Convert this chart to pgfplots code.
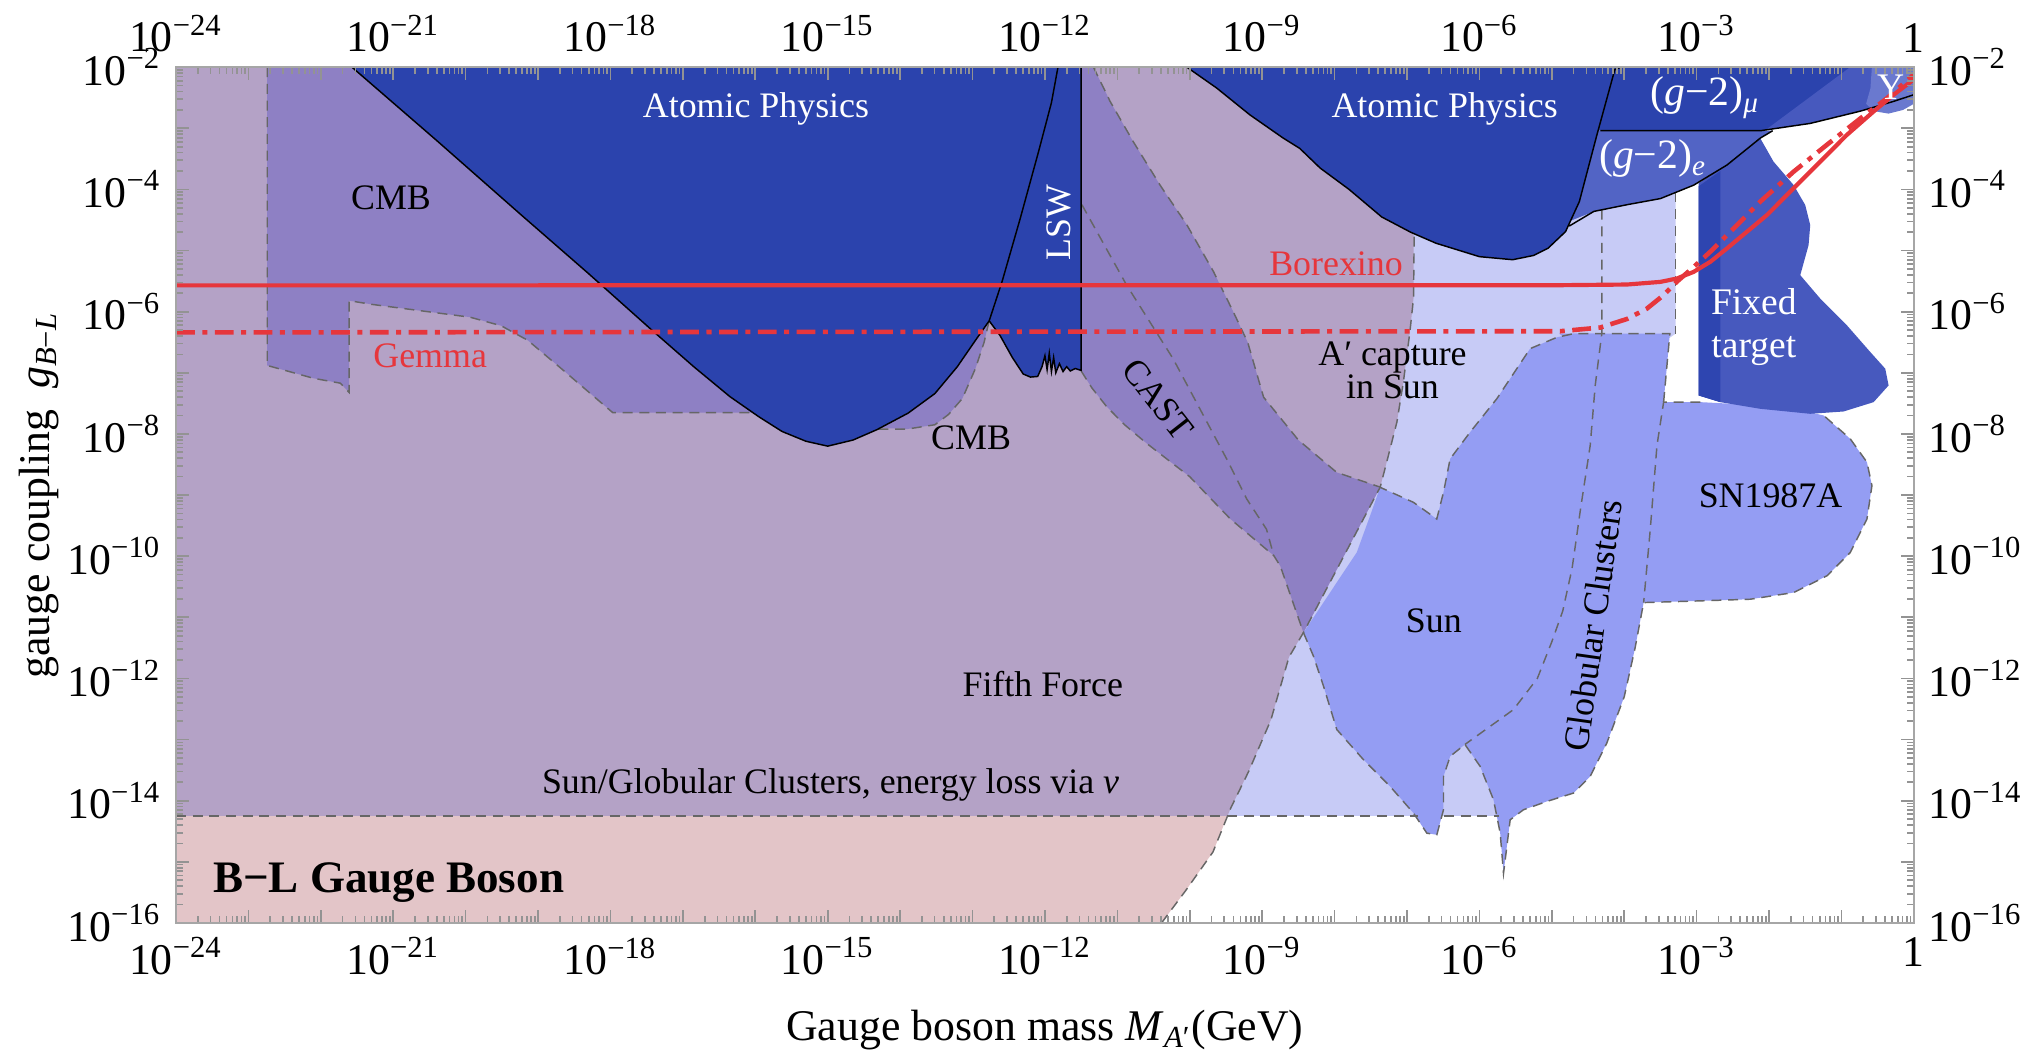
\documentclass[border=0pt]{standalone}
\usepackage{fontspec}
\setmainfont{Liberation Serif}
\usepackage{pgfplots}
\pgfplotsset{compat=1.18}

\definecolor{lav}{HTML}{C7CBF6}
\definecolor{pinkff}{HTML}{E3C5C8}
\definecolor{ffpur}{HTML}{B4A2C6}
\definecolor{cmb}{HTML}{8E80C4}
\definecolor{dblue}{HTML}{2B43AD}
\definecolor{sunb}{HTML}{949DF3}
\definecolor{gtwo}{HTML}{5264C5}
\definecolor{ftc}{HTML}{4759BE}
\definecolor{ftstrip}{HTML}{2E45B0}
\definecolor{ups}{HTML}{6A79CF}
\definecolor{redl}{HTML}{E6363C}

\newcommand\tn[1]{10\textsuperscript{−#1}}
\newcommand\lf{\fontsize{8.6}{9}\selectfont}

\xdef\xminorlist{-23.69897}
\xdef\yminorlist{-15.69897}
\foreach \d in {-24,...,-1}{\foreach \k in {0.30103,0.47712,0.60206,0.69897,0.77815,0.8451,0.90309,0.95424}{\pgfmathparse{\d+\k}\xdef\xminorlist{\xminorlist,\pgfmathresult}}}
\foreach \d in {-16,...,-3}{\foreach \k in {0.30103,0.47712,0.60206,0.69897,0.77815,0.8451,0.90309,0.95424}{\pgfmathparse{\d+\k}\xdef\yminorlist{\yminorlist,\pgfmathresult}}}

\pgfplotsset{
  frame/.style={
    scale only axis, width=416.7pt, height=205.2pt,
    xmin=-24, xmax=0, ymin=-16, ymax=-2,
    xtick={-24,-23,...,0}, ytick={-16,-15,...,-2},
    xticklabels={\tn{24},,,\tn{21},,,\tn{18},,,\tn{15},,,\tn{12},,,\tn{9},,,\tn{6},,,\tn{3},,,1},
    yticklabels={\tn{16},,\tn{14},,\tn{12},,\tn{10},,\tn{8},,\tn{6},,\tn{4},,\tn{2}},
    minor xtick/.expanded={\xminorlist}, minor ytick/.expanded={\yminorlist},
    tick align=inside, major tick length=3pt, minor tick length=1.6pt,
    tick style={gray!85, line width=0.4pt},
    axis line style={gray!70, line width=0.5pt},
    tick label style={font=\fontsize{10.5}{12}\selectfont},
  }
}
\tikzset{bd/.style={draw=black!60, line width=0.35pt, dash pattern=on 2.4pt off 1.6pt},
         ol/.style={draw=black, line width=0.35pt}}

\begin{document}
\begin{tikzpicture}
\begin{axis}[frame, name=ax, no markers, axis on top,
  xticklabel pos=lower, yticklabel pos=left,
  xlabel={Gauge boson mass \textit{M}\textsubscript{\textit{A}′}(GeV)},
  ylabel={gauge coupling\hspace{5pt}\textit{g}\textsubscript{\textit{B}−\textit{L}}},
  label style={font=\fontsize{10.5}{12}\selectfont},
  xlabel style={at={(axis description cs:0.5,-0.125)}, anchor=center},
  ylabel style={at={(axis description cs:-0.079,0.5)}, anchor=center},
]
% lavender base (energy loss via nu / A' capture)
\addplot[fill=lav, draw=none] coordinates {(-24,-14.25) (-5.68,-14.25) (-5.3,-13.5) (-4.3,-10) (-3.55,-7.0) (-3.40,-6.45) (-3.29,-6.36) (-3.29,-3.5) (-24,-3.5)} -- cycle;
% fifth force over white (pink)
\addplot[fill=pinkff, draw=none] coordinates {(-24,-16) (-10.39,-16) (-10.05,-15.46) (-9.68,-14.84) (-9.48,-14.25) (-24,-14.25)} -- cycle;
% fifth force over lavender
\addplot[fill=ffpur, draw=none] coordinates {(-24,-14.25) (-9.48,-14.25) (-9.43,-14.11) (-9.19,-13.53) (-8.88,-12.68) (-8.63,-11.65) (-8.43,-11.25) (-7.37,-8.87) (-7.28,-8.46) (-7.14,-7.81) (-7.05,-7.15) (-6.96,-6.33) (-6.91,-5.78) (-6.9,-2) (-24,-2)} -- cycle;
% CMB / CAST
\addplot[fill=cmb, draw=none] coordinates {(-22.74,-2) (-22.74,-6.88) (-22.10,-7.09) (-21.73,-7.17) (-21.61,-7.32) (-21.61,-5.82) (-21.30,-5.88) (-19.94,-6.09) (-19.51,-6.23) (-19.14,-6.47) (-18.71,-6.90) (-17.97,-7.65) (-15.5,-7.65) (-14.3,-7.9) (-13.9,-7.92) (-13.52,-7.85) (-13.33,-7.68) (-13.14,-7.42) (-12.96,-6.93) (-12.84,-6.5) (-12.77,-6.15) (-12.6,-6.0) (-11.6,-6.0) (-11.6,-6.95) (-11.5,-6.97) (-11.35,-7.25) (-11.15,-7.55) (-10.9,-7.85) (-10.6,-8.15) (-10.0,-8.7) (-9.44,-9.39) (-8.84,-9.99) (-8.75,-10.16) (-8.43,-11.25) (-7.37,-8.87) (-7.97,-8.63) (-8.5,-8.1) (-8.98,-7.4) (-9.2,-6.5) (-9.40,-6.0) (-9.67,-5.35) (-10.04,-4.58) (-10.41,-3.93) (-10.78,-3.22) (-11.10,-2.56) (-11.33,-2)} -- cycle;
% Sun
\addplot[fill=sunb, draw=none] coordinates {(-8.43,-11.25) (-8.062,-10.594) (-7.694,-9.938) (-7.509,-9.337) (-7.371,-8.873) (-6.911,-9.119) (-6.589,-9.392) (-6.496,-8.955) (-6.404,-8.408) (-6.128,-7.971) (-5.760,-7.425) (-5.392,-6.769) (-5.300,-6.605) (-4.93,-6.42) (-4.7,-6.36) (-4.3,-6.36) (-4.4,-7.2) (-4.47,-8.19) (-4.6,-9.2) (-4.72,-10.2) (-4.85,-10.9) (-5.0,-11.4) (-5.2,-12.0) (-5.53,-12.51) (-6.2,-13.08) (-6.404,-13.274) (-6.496,-13.602) (-6.496,-14.148) (-6.588,-14.558) (-6.726,-14.531) (-6.910,-14.203) (-7.233,-13.766) (-7.601,-13.329) (-7.969,-12.837) (-8.153,-12.126) (-8.292,-11.635)} -- cycle;
% Globular clusters
\addplot[fill=sunb, draw=none] coordinates {(-4.9,-6.36) (-3.37,-6.36) (-3.456,-7.48) (-3.548,-8.19) (-3.640,-9.556) (-3.732,-10.759) (-3.85,-11.5) (-4.0,-12.3) (-4.24,-13.055) (-4.47,-13.602) (-4.70,-13.875) (-5.069,-14.012) (-5.391,-14.148) (-5.575,-14.312) (-5.667,-15.187) (-5.713,-14.531) (-5.805,-13.985) (-5.990,-13.438) (-6.2,-13.08) (-5.53,-12.51) (-5.2,-12.0) (-4.85,-10.9) (-4.6,-9.2) (-4.4,-7.2) (-4.6,-6.6)} -- cycle;
% SN1987A
\addplot[fill=sunb, draw=none] coordinates {(-3.456,-7.48) (-2.95,-7.48) (-1.8,-7.55) (-1.246,-7.698) (-0.878,-8.081) (-0.648,-8.463) (-0.579,-8.846) (-0.648,-9.392) (-0.878,-9.939) (-1.200,-10.321) (-1.660,-10.595) (-2.259,-10.704) (-2.950,-10.731) (-3.732,-10.759) (-3.9,-10.75) (-3.7,-7.48)} -- cycle;
% Atomic physics (left) and LSW
\addplot[fill=dblue, draw=none] coordinates {(-21.57,-2) (-20.4,-3.2) (-19.23,-4.42) (-18.3,-5.38) (-17.43,-6.3) (-16.85,-6.9) (-16.35,-7.39) (-15.95,-7.72) (-15.63,-7.96) (-15.3,-8.12) (-15.0,-8.2) (-14.65,-8.1) (-14.32,-7.93) (-13.89,-7.66) (-13.52,-7.34) (-13.21,-6.90) (-12.96,-6.47) (-12.77,-6.15) (-12.59,-5.50) (-12.34,-4.47) (-12.09,-3.39) (-11.91,-2.58) (-11.82,-2)} -- cycle;
\addplot[fill=dblue, draw=none] coordinates {(-11.82,-2) (-11.91,-2.58) (-12.09,-3.39) (-12.34,-4.47) (-12.59,-5.50) (-12.77,-6.15) (-12.62,-6.39) (-12.45,-6.75) (-12.3,-7.02) (-12.2,-7.07) (-12.1,-7.06) (-12.04,-6.9) (-12.0,-6.72) (-11.97,-6.95) (-11.94,-6.68) (-11.91,-6.98) (-11.88,-6.75) (-11.85,-7.0) (-11.8,-6.85) (-11.75,-6.98) (-11.7,-6.9) (-11.65,-6.97) (-11.58,-6.93) (-11.5,-6.96) (-11.5,-2)} -- cycle;
% (g-2)e and (g-2)mu
\addplot[fill=gtwo, draw=none] coordinates {(-5.2,-3.04) (-1.95,-3.04) (-2.12,-3.16) (-2.58,-3.60) (-3.04,-3.93) (-3.50,-4.15) (-3.96,-4.25) (-4.42,-4.36) (-4.88,-4.58) (-5.2,-4.75)} -- cycle;
\addplot[fill=dblue, draw=none] coordinates {(-4.6,-2) (0,-2) (0,-2.45) (-0.28,-2.56) (-0.74,-2.72) (-1.43,-2.92) (-2.12,-3.04) (-4.6,-3.04)} -- cycle;
% Atomic physics (right)
\addplot[fill=dblue, draw=none] coordinates {(-10.04,-2) (-9.63,-2.34) (-9.17,-2.78) (-8.71,-3.16) (-8.48,-3.33) (-8.2,-3.65) (-7.8,-4.0) (-7.35,-4.45) (-6.95,-4.7) (-6.6,-4.88) (-6.0,-5.1) (-5.54,-5.15) (-5.25,-5.08) (-5.05,-4.96) (-4.81,-4.69) (-4.62,-4.2) (-4.38,-3.12) (-4.13,-2.04) (-4.05,-2)} -- cycle;
% fixed target
\addplot[fill=ftc, draw=none] coordinates {(-2.973,-3.9) (-2.973,-7.371) (-2.674,-7.480) (-2.122,-7.589) (-1.431,-7.671) (-0.971,-7.633) (-0.556,-7.480) (-0.349,-7.207) (-0.395,-6.933) (-0.602,-6.660) (-0.925,-6.223) (-1.293,-5.786) (-1.569,-5.403) (-1.454,-4.911) (-1.431,-4.584) (-1.500,-4.256) (-1.661,-3.928) (-1.938,-3.545) (-2.122,-3.163) (-2.6,-3.6)} -- cycle;
\addplot[fill=ftc, draw=none] coordinates {(-2.05,-3.03) (-0.88,-2.0) (-0.35,-2.0) (-0.35,-2.58) (-0.74,-2.72) (-1.43,-2.92)} -- cycle;
\addplot[fill=ftstrip, draw=none] coordinates {(-2.973,-3.95) (-2.674,-3.70) (-2.674,-7.48) (-2.973,-7.371)} -- cycle;
% Upsilon
\addplot[fill=ups, draw=none] coordinates {(-0.58,-2) (-0.6,-2.35) (-0.66,-2.6) (-0.55,-2.72) (-0.35,-2.76) (-0.15,-2.7) (0,-2.6) (0,-2)} -- cycle;

% dashed boundaries
\addplot[bd] coordinates {(-24,-14.25) (-6.85,-14.25)};
\addplot[bd] coordinates {(-6.49,-14.25) (-5.73,-14.25)};
\addplot[bd] coordinates {(-10.39,-16) (-10.05,-15.46) (-9.68,-14.84) (-9.43,-14.11) (-9.19,-13.53) (-8.88,-12.68) (-8.63,-11.65) (-8.43,-11.25) (-7.37,-8.87) (-7.28,-8.46) (-7.14,-7.81) (-7.05,-7.15) (-6.96,-6.33) (-6.91,-5.78) (-6.9,-4.72)};
\addplot[bd] coordinates {(-22.74,-2) (-22.74,-6.88) (-22.10,-7.09) (-21.73,-7.17) (-21.61,-7.32) (-21.61,-5.82) (-21.30,-5.88) (-19.94,-6.09) (-19.51,-6.23) (-19.14,-6.47) (-18.71,-6.90) (-17.97,-7.65) (-16.02,-7.65)};
\addplot[bd] coordinates {(-14.3,-7.92) (-13.9,-7.92) (-13.52,-7.85) (-13.33,-7.68) (-13.14,-7.42) (-12.96,-6.93) (-12.84,-6.5) (-12.77,-6.15)};
\addplot[bd] coordinates {(-11.5,-6.97) (-11.35,-7.25) (-11.15,-7.55) (-10.9,-7.85) (-10.6,-8.15) (-10.0,-8.7) (-9.44,-9.39) (-8.84,-9.99) (-8.75,-10.16) (-8.43,-11.25)};
\addplot[bd] coordinates {(-11.33,-2) (-11.10,-2.56) (-10.78,-3.22) (-10.41,-3.93) (-10.04,-4.58) (-9.67,-5.35) (-9.40,-6.0) (-9.2,-6.5) (-8.98,-7.4) (-8.5,-8.1) (-7.97,-8.63) (-7.37,-8.87)};
\addplot[bd] coordinates {(-11.49,-4.25) (-10.87,-5.57) (-10.23,-6.77) (-9.49,-8.41) (-9.21,-9.07) (-8.94,-9.56) (-8.84,-9.99)};
\addplot[bd] coordinates {(-8.43,-11.25) (-8.292,-11.635) (-8.153,-12.126) (-7.969,-12.837) (-7.601,-13.329) (-7.233,-13.766) (-6.910,-14.203) (-6.726,-14.531) (-6.588,-14.558) (-6.496,-14.148) (-6.496,-13.602) (-6.404,-13.274) (-6.2,-13.08) (-5.990,-13.438) (-5.805,-13.985) (-5.713,-14.531) (-5.667,-15.187) (-5.575,-14.312) (-5.391,-14.148) (-5.069,-14.012) (-4.70,-13.875) (-4.47,-13.602) (-4.24,-13.055) (-4.0,-12.3) (-3.85,-11.5) (-3.732,-10.759) (-2.950,-10.731) (-2.259,-10.704) (-1.660,-10.595) (-1.200,-10.321) (-0.878,-9.939) (-0.648,-9.392) (-0.579,-8.846) (-0.648,-8.463) (-0.878,-8.081) (-1.246,-7.698)};
\addplot[bd] coordinates {(-2.95,-7.48) (-3.456,-7.48) (-3.548,-8.19) (-3.640,-9.556) (-3.732,-10.759)};
\addplot[bd] coordinates {(-3.456,-7.48) (-3.37,-6.36) (-4.7,-6.36) (-4.93,-6.42) (-5.3,-6.605) (-5.392,-6.769) (-5.760,-7.425) (-6.128,-7.971) (-6.404,-8.408) (-6.496,-8.955) (-6.589,-9.392) (-6.911,-9.119) (-7.371,-8.873)};
\addplot[bd] coordinates {(-4.31,-4.33) (-4.31,-6.36) (-4.4,-7.2) (-4.47,-8.19) (-4.6,-9.2) (-4.72,-10.2) (-4.85,-10.9) (-5.0,-11.4) (-5.2,-12.0) (-5.53,-12.51) (-6.2,-13.08)};
\addplot[bd] coordinates {(-3.29,-4.05) (-3.29,-6.36)};

% solid outlines
\addplot[ol] coordinates {(-21.57,-2) (-20.4,-3.2) (-19.23,-4.42) (-18.3,-5.38) (-17.43,-6.3) (-16.85,-6.9) (-16.35,-7.39) (-15.95,-7.72) (-15.63,-7.96) (-15.3,-8.12) (-15.0,-8.2) (-14.65,-8.1) (-14.32,-7.93) (-13.89,-7.66) (-13.52,-7.34) (-13.21,-6.90) (-12.96,-6.47) (-12.77,-6.15) (-12.59,-5.50) (-12.34,-4.47) (-12.09,-3.39) (-11.91,-2.58) (-11.82,-2)};
\addplot[ol] coordinates {(-12.77,-6.15) (-12.62,-6.39) (-12.45,-6.75) (-12.3,-7.02) (-12.2,-7.07) (-12.1,-7.06) (-12.04,-6.9) (-12.0,-6.72) (-11.97,-6.95) (-11.94,-6.68) (-11.91,-6.98) (-11.88,-6.75) (-11.85,-7.0) (-11.8,-6.85) (-11.75,-6.98) (-11.7,-6.9) (-11.65,-6.97) (-11.58,-6.93) (-11.5,-6.96) (-11.5,-2)};
\addplot[ol] coordinates {(-10.04,-2) (-9.63,-2.34) (-9.17,-2.78) (-8.71,-3.16) (-8.48,-3.33) (-8.2,-3.65) (-7.8,-4.0) (-7.35,-4.45) (-6.95,-4.7) (-6.6,-4.88) (-6.0,-5.1) (-5.54,-5.15) (-5.25,-5.08) (-5.05,-4.96) (-4.81,-4.69) (-4.62,-4.2) (-4.38,-3.12) (-4.13,-2.04) (-4.05,-2)};
\addplot[ol] coordinates {(-4.33,-3.04) (-2.12,-3.04) (-1.43,-2.92) (-0.74,-2.72) (-0.28,-2.56) (0,-2.45)};
\addplot[ol] coordinates {(-4.76,-4.6) (-4.42,-4.36) (-3.96,-4.25) (-3.50,-4.15) (-3.04,-3.93) (-2.58,-3.60) (-2.12,-3.16) (-1.95,-3.04)};

% Borexino and Gemma
\addplot[redl, line width=1pt] coordinates {(-24,-5.57) (-4.884,-5.567) (-3.963,-5.556) (-3.503,-5.513) (-3.273,-5.458) (-3.042,-5.349) (-2.812,-5.185) (-2.582,-4.966) (-2.306,-4.693) (-2.030,-4.420) (-1.661,-3.982) (-1.293,-3.545) (-0.925,-3.108) (-0.556,-2.725) (-0.280,-2.452) (0,-2.2)};
\addplot[redl, line width=1.1pt, dash pattern=on 4.5pt off 1.8pt on 1.2pt off 1.8pt] coordinates {(-24,-6.34) (-4.884,-6.32) (-4.332,-6.26) (-3.963,-6.12) (-3.687,-5.95) (-3.457,-5.73) (-3.273,-5.51) (-3.042,-5.27) (-2.812,-5.02) (-2.490,-4.64) (-2.122,-4.20) (-1.661,-3.71) (-1.201,-3.27) (-0.740,-2.84) (-0.372,-2.51) (0,-2.12)};

% labels
\node[white, font=\lf] at (-15.99,-2.68) {Atomic Physics};
\node[white, font=\lf] at (-6.48,-2.68) {Atomic Physics};
\node[font=\lf] at (-21.03,-4.14) {CMB};
\node[font=\lf] at (-13.02,-8.07) {CMB};
\node[white, font=\lf, rotate=90] at (-11.81,-4.54) {LSW};
\node[redl, font=\lf] at (-7.98,-5.21) {Borexino};
\node[redl, font=\lf] at (-20.49,-6.72) {Gemma};
\node[font=\lf, rotate=-52] at (-10.44,-7.43) {CAST};
\node[font=\fontsize{8.6}{8}\selectfont, align=center] at (-7.20,-6.96) {A′ capture\\in Sun};
\node[font=\lf] at (-12.03,-12.09) {Fifth Force};
\node[font=\lf] at (-14.96,-13.75) {Sun/Globular Clusters, energy loss via \textit{ν}};
\node[font=\fontsize{10.8}{12}\selectfont\bfseries, anchor=west, inner sep=0pt] at (-23.50,-15.34) {B−L Gauge Boson};
\node[font=\lf] at (-6.63,-11.06) {Sun};
\node[font=\lf, rotate=82] at (-4.43,-11.13) {Globular Clusters};
\node[font=\lf] at (-1.98,-9.01) {SN1987A};
\node[white, font=\fontsize{9}{10.3}\selectfont, align=center] at (-2.21,-6.25) {Fixed\\target};
\node[white, font=\fontsize{10}{12}\selectfont] at (-2.88,-2.50) {(\textit{g}−2)\textsubscript{\textit{μ}}};
\node[white, font=\fontsize{10}{12}\selectfont] at (-3.60,-3.50) {(\textit{g}−2)\textsubscript{\textit{e}}};
\node[white, font=\fontsize{9}{10}\selectfont] at (-0.32,-2.32) {Υ};
\end{axis}
\begin{axis}[frame, xticklabel pos=upper, yticklabel pos=right]
\end{axis}
\pgfresetboundingbox
\path ([xshift=-42.2pt,yshift=-31.2pt]ax.south west) rectangle ([xshift=31.2pt,yshift=16.1pt]ax.north east);
\end{tikzpicture}
\end{document}
